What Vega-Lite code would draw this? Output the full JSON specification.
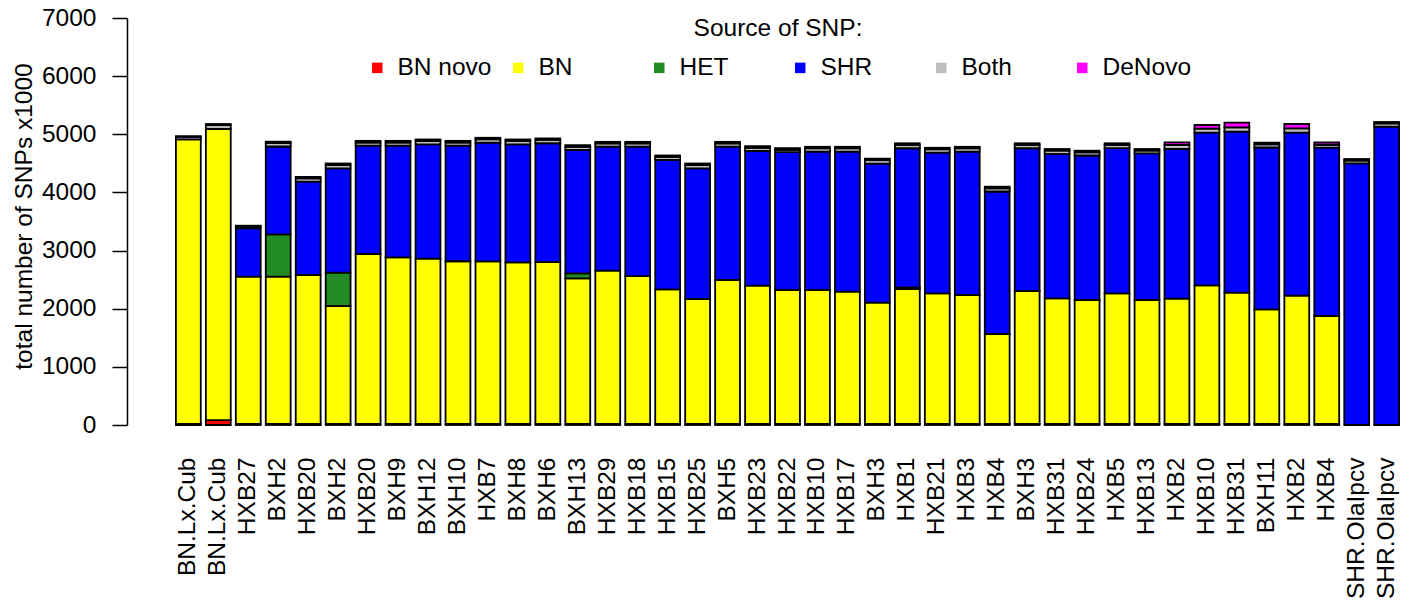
{
  "$schema": "https://vega.github.io/schema/vega-lite/v6.json",
  "autosize": {"type": "none"},
  "width": 1229,
  "height": 407,
  "padding": {"left": 173, "top": 18, "right": 10, "bottom": 176},
  "background": "white",
  "config": {"view": {"stroke": null}, "font": "Liberation Sans"},
  "data": {"values": [
    {"i": 0, "name": "BN.Lx.Cub", "BN novo": 20, "BN": 4894, "HET": 0, "SHR": 0, "Both": 40, "DeNovo": 16},
    {"i": 1, "name": "BN.Lx.Cub", "BN novo": 85, "BN": 5006, "HET": 0, "SHR": 0, "Both": 66, "DeNovo": 20},
    {"i": 2, "name": "HXB27", "BN novo": 20, "BN": 2531, "HET": 0, "SHR": 832, "Both": 30, "DeNovo": 15},
    {"i": 3, "name": "BXH2", "BN novo": 20, "BN": 2531, "HET": 729, "SHR": 1510, "Both": 58, "DeNovo": 25},
    {"i": 4, "name": "HXB20", "BN novo": 20, "BN": 2560, "HET": 0, "SHR": 1605, "Both": 55, "DeNovo": 28},
    {"i": 5, "name": "BXH2", "BN novo": 20, "BN": 2027, "HET": 573, "SHR": 1795, "Both": 55, "DeNovo": 28},
    {"i": 6, "name": "HXB20", "BN novo": 20, "BN": 2921, "HET": 0, "SHR": 1863, "Both": 55, "DeNovo": 28},
    {"i": 7, "name": "BXH9", "BN novo": 20, "BN": 2864, "HET": 0, "SHR": 1920, "Both": 55, "DeNovo": 28},
    {"i": 8, "name": "BXH12", "BN novo": 20, "BN": 2842, "HET": 0, "SHR": 1966, "Both": 55, "DeNovo": 28},
    {"i": 9, "name": "BXH10", "BN novo": 20, "BN": 2796, "HET": 0, "SHR": 1988, "Both": 55, "DeNovo": 28},
    {"i": 10, "name": "HXB7", "BN novo": 20, "BN": 2795, "HET": 0, "SHR": 2042, "Both": 58, "DeNovo": 25},
    {"i": 11, "name": "BXH8", "BN novo": 20, "BN": 2778, "HET": 0, "SHR": 2030, "Both": 58, "DeNovo": 25},
    {"i": 12, "name": "BXH6", "BN novo": 20, "BN": 2780, "HET": 0, "SHR": 2046, "Both": 58, "DeNovo": 25},
    {"i": 13, "name": "BXH13", "BN novo": 20, "BN": 2503, "HET": 86, "SHR": 2121, "Both": 55, "DeNovo": 28},
    {"i": 14, "name": "HXB29", "BN novo": 20, "BN": 2634, "HET": 0, "SHR": 2133, "Both": 55, "DeNovo": 28},
    {"i": 15, "name": "HXB18", "BN novo": 20, "BN": 2542, "HET": 0, "SHR": 2225, "Both": 55, "DeNovo": 28},
    {"i": 16, "name": "HXB15", "BN novo": 20, "BN": 2314, "HET": 0, "SHR": 2224, "Both": 52, "DeNovo": 26},
    {"i": 17, "name": "HXB25", "BN novo": 20, "BN": 2147, "HET": 0, "SHR": 2248, "Both": 55, "DeNovo": 28},
    {"i": 18, "name": "BXH5", "BN novo": 20, "BN": 2474, "HET": 0, "SHR": 2293, "Both": 55, "DeNovo": 28},
    {"i": 19, "name": "HXB23", "BN novo": 20, "BN": 2376, "HET": 0, "SHR": 2317, "Both": 55, "DeNovo": 28},
    {"i": 20, "name": "HXB22", "BN novo": 20, "BN": 2302, "HET": 0, "SHR": 2372, "Both": 40, "DeNovo": 28},
    {"i": 21, "name": "HXB10", "BN novo": 20, "BN": 2302, "HET": 0, "SHR": 2380, "Both": 58, "DeNovo": 25},
    {"i": 22, "name": "HXB17", "BN novo": 20, "BN": 2273, "HET": 0, "SHR": 2409, "Both": 58, "DeNovo": 25},
    {"i": 23, "name": "BXH3", "BN novo": 20, "BN": 2084, "HET": 0, "SHR": 2392, "Both": 58, "DeNovo": 27},
    {"i": 24, "name": "HXB1", "BN novo": 20, "BN": 2320, "HET": 28, "SHR": 2392, "Both": 58, "DeNovo": 27},
    {"i": 25, "name": "HXB21", "BN novo": 20, "BN": 2245, "HET": 0, "SHR": 2420, "Both": 58, "DeNovo": 25},
    {"i": 26, "name": "HXB3", "BN novo": 20, "BN": 2216, "HET": 0, "SHR": 2466, "Both": 58, "DeNovo": 25},
    {"i": 27, "name": "HXB4", "BN novo": 20, "BN": 1545, "HET": 0, "SHR": 2451, "Both": 55, "DeNovo": 28},
    {"i": 28, "name": "BXH3", "BN novo": 20, "BN": 2285, "HET": 0, "SHR": 2455, "Both": 58, "DeNovo": 27},
    {"i": 29, "name": "HXB31", "BN novo": 20, "BN": 2159, "HET": 0, "SHR": 2483, "Both": 58, "DeNovo": 27},
    {"i": 30, "name": "HXB24", "BN novo": 20, "BN": 2130, "HET": 0, "SHR": 2485, "Both": 55, "DeNovo": 28},
    {"i": 31, "name": "HXB5", "BN novo": 20, "BN": 2245, "HET": 0, "SHR": 2497, "Both": 55, "DeNovo": 28},
    {"i": 32, "name": "HXB13", "BN novo": 20, "BN": 2130, "HET": 0, "SHR": 2523, "Both": 48, "DeNovo": 26},
    {"i": 33, "name": "HXB2", "BN novo": 20, "BN": 2153, "HET": 0, "SHR": 2574, "Both": 70, "DeNovo": 45},
    {"i": 34, "name": "HXB10", "BN novo": 20, "BN": 2383, "HET": 0, "SHR": 2625, "Both": 70, "DeNovo": 62},
    {"i": 35, "name": "HXB31", "BN novo": 20, "BN": 2256, "HET": 0, "SHR": 2769, "Both": 75, "DeNovo": 80},
    {"i": 36, "name": "BXH11", "BN novo": 20, "BN": 1970, "HET": 0, "SHR": 2783, "Both": 55, "DeNovo": 28},
    {"i": 37, "name": "HXB2", "BN novo": 20, "BN": 2204, "HET": 0, "SHR": 2804, "Both": 75, "DeNovo": 74},
    {"i": 38, "name": "HXB4", "BN novo": 20, "BN": 1855, "HET": 0, "SHR": 2895, "Both": 50, "DeNovo": 42},
    {"i": 39, "name": "SHR.OlaIpcv", "BN novo": 0, "BN": 0, "HET": 0, "SHR": 4501, "Both": 48, "DeNovo": 26},
    {"i": 40, "name": "SHR.OlaIpcv", "BN novo": 0, "BN": 0, "HET": 0, "SHR": 5131, "Both": 55, "DeNovo": 26}
  ]},
  "transform": [
    {"fold": ["BN novo", "BN", "HET", "SHR", "Both", "DeNovo"], "as": ["src", "v"]},
    {"lookup": "src", "from": {"data": {"values": [
      {"src": "BN novo", "k": 1}, {"src": "BN", "k": 2}, {"src": "HET", "k": 3},
      {"src": "SHR", "k": 4}, {"src": "Both", "k": 5}, {"src": "DeNovo", "k": 6}
    ]}, "key": "src", "fields": ["k"]}},
    {"filter": "datum.v > 0"}
  ],
  "mark": {"type": "bar", "stroke": "black", "strokeWidth": 1.8},
  "encoding": {
    "x": {
      "field": "i", "type": "ordinal",
      "scale": {"paddingInner": 0.17, "paddingOuter": 0.097},
      "axis": {
        "title": null, "domain": false, "ticks": false, "tickSize": 0,
        "labelAngle": 270, "labelAlign": "right", "labelBaseline": "middle",
        "labelPadding": 32, "labelFontSize": 24.5, "labelColor": "black",
        "labelFont": "Liberation Sans", "labelLimit": 300,
        "labelExpr": "['BN.Lx.Cub','BN.Lx.Cub','HXB27','BXH2','HXB20','BXH2','HXB20','BXH9','BXH12','BXH10','HXB7','BXH8','BXH6','BXH13','HXB29','HXB18','HXB15','HXB25','BXH5','HXB23','HXB22','HXB10','HXB17','BXH3','HXB1','HXB21','HXB3','HXB4','BXH3','HXB31','HXB24','HXB5','HXB13','HXB2','HXB10','HXB31','BXH11','HXB2','HXB4','SHR.OlaIpcv','SHR.OlaIpcv'][datum.value]"
      }
    },
    "y": {
      "field": "v", "type": "quantitative", "stack": "zero",
      "scale": {"domain": [0, 7000], "nice": false},
      "axis": {
        "title": "total number of SNPs x1000",
        "titleFontSize": 24.5, "titleFontWeight": "normal", "titleColor": "black",
        "titleFont": "Liberation Sans",
        "titleX": -96, "titleY": 198, "titleBaseline": "alphabetic", "titleAlign": "center", "titleAngle": 270,
        "values": [0, 1000, 2000, 3000, 4000, 5000, 6000, 7000],
        "format": "d", "grid": false, "offset": 46,
        "domainColor": "black", "domainWidth": 1.5,
        "tickColor": "black", "tickWidth": 1.5, "tickSize": 15,
        "labelPadding": 16, "labelFontSize": 24.5, "labelColor": "black",
        "labelFont": "Liberation Sans", "labelAngle": 0, "labelAlign": "right", "labelBaseline": "middle"
      }
    },
    "color": {
      "field": "src", "type": "nominal",
      "scale": {
        "domain": ["BN novo", "BN", "HET", "SHR", "Both", "DeNovo"],
        "range": ["#FF0000", "#FFFF00", "#228B22", "#0000FF", "#BEBEBE", "#FF00FF"]
      },
      "legend": {
        "title": "Source of SNP:", "orient": "none", "legendX": 192, "legendY": -1,
        "direction": "horizontal", "columns": 6, "gridAlign": "all", "columnPadding": 14,
        "symbolType": "square", "symbolSize": 110, "symbolStrokeWidth": 0, "symbolOpacity": 1,
        "labelFontSize": 24.5, "labelFont": "Liberation Sans", "labelColor": "black", "labelOffset": 8,
        "titleFontSize": 24.5, "titleFont": "Liberation Sans", "titleFontWeight": "normal", "titleColor": "black",
        "titleAnchor": "middle", "titlePadding": 14, "padding": 0, "labelLimit": 300
      }
    },
    "order": {"field": "k", "type": "quantitative"}
  }
}
